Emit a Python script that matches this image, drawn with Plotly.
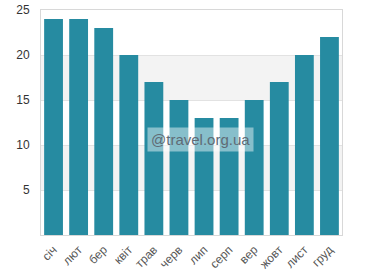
import plotly.graph_objects as go

months = ["січ", "лют", "бер", "квіт", "трав", "черв", "лип", "серп", "вер", "жовт", "лист", "груд"]
values = [24, 24, 23, 20, 17, 15, 13, 13, 15, 17, 20, 22]
y_ticks = [5, 10, 15, 20, 25]
bands = [(5, 10), (15, 20)]

fig = go.Figure()
fig.add_trace(go.Bar(x=months, y=values, marker=dict(color="#268ba1", line=dict(width=0)),
                     hoverinfo="skip"))

for lo, hi in bands:
    fig.add_shape(type="rect", xref="paper", yref="y", x0=0, x1=1, y0=lo, y1=hi,
                  fillcolor="#f3f3f3", line=dict(width=0), layer="between")

fig.add_annotation(text="@travel.org.ua", xref="paper", yref="paper", x=0.53, y=0.425,
                   showarrow=False, font=dict(family="Liberation Sans", size=15, color="#5f6b75"),
                   bgcolor="rgba(255,255,255,0.45)", borderpad=3)

fig.update_layout(
    width=382, height=280,
    margin=dict(l=41, r=40, t=10, b=45),
    paper_bgcolor="white", plot_bgcolor="white",
    bargap=0.25, showlegend=False,
    font=dict(family="Liberation Sans", size=11, color="#333333"),
)
fig.update_xaxes(tickangle=-45, showline=True, mirror=True, linecolor="#d8d8d8", linewidth=1,
                 showgrid=False, tickfont=dict(size=12, color="#555555"), ticks="",
                 ticklabelstandoff=2, automargin=False)
fig.update_yaxes(range=[0, 25], tickvals=y_ticks, showline=True, mirror=True, linecolor="#d8d8d8",
                 linewidth=1, showgrid=True, gridcolor="#e2e2e2", zeroline=False,
                 ticklabelstandoff=8, tickfont=dict(size=12, color="#333333"), automargin=False)

fig.write_html("out.html", post_script="document.body.style.margin='0';",
               config={"displayModeBar": False})
